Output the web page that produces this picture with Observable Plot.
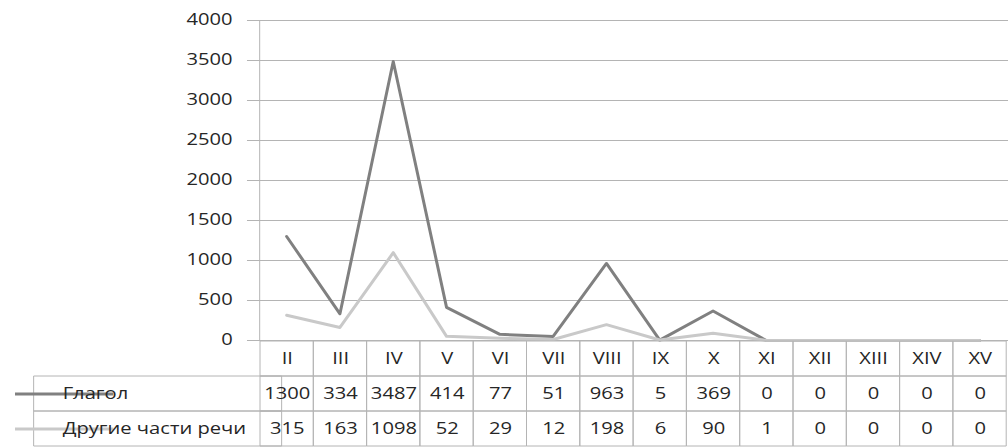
<!DOCTYPE html>
<html><head><meta charset="utf-8">
<script src="https://cdn.jsdelivr.net/npm/d3@7"></script>
<script src="https://cdn.jsdelivr.net/npm/@observablehq/plot@0.6"></script>
<style>
html,body{margin:0;padding:0;background:#fff;}
#chart svg{display:block;max-width:none;}
#chart svg [aria-label="y-axis tick"] path,
#chart svg [aria-label="y-axis"] .tick line{stroke:#b4b4b4;}
</style></head><body><div id="chart"></div>
<script>
const categories = ["II","III","IV","V","VI","VII","VIII","IX","X","XI","XII","XIII","XIV","XV"];
const seriesNames = ["Глагол","Другие части речи"];
const glagol = [1300,334,3487,414,77,51,963,5,369,0,0,0,0,0];
const other = [315,163,1098,52,29,12,198,6,90,1,0,0,0,0];
const yTicks = [0,500,1000,1500,2000,2500,3000,3500,4000];
const seriesColors = ["#808080","#c9c9c9"];

const PAGE_W = 1008, S = 1.3, W = PAGE_W / S;
const X0 = 255 / S, X1 = 1010 / S, LEFT = 7 / S;
const step = (X1 - X0) / categories.length;
const FONT = "'Open Sans', sans-serif";
const FS = 15.5;
const GRID = "#b4b4b4", INK = "#262626";
const CH = 352, CB = 12; // chart svg height and bottom margin (zero line at 340)

const values = [glagol, other];
const data = seriesNames.flatMap((name, s) => categories.map((c, i) => ({cat: c, series: name, value: values[s][i]})));

const chart = Plot.plot({
  width: W, height: CH, marginTop: 20, marginBottom: CB, marginLeft: X0, marginRight: 0,
  style: {fontFamily: FONT, fontSize: FS + "px", color: INK, background: "transparent"},
  x: {type: "point", domain: categories, range: [X0, X1], padding: 0.5, align: 0.5, axis: null},
  y: {domain: [0, 4000], range: [340, 20], ticks: yTicks, tickSize: 8 / S, tickPadding: 23 / S - 8 / S, tickFormat: d => String(d), label: null},
  color: {domain: seriesNames, range: seriesColors},
  marks: [
    Plot.ruleY(yTicks, {stroke: GRID, strokeWidth: 1}),
    Plot.ruleX([categories[0]], {x: d => d, y1: 0, y2: 4000, dx: -step / 2, stroke: GRID}),
    Plot.line(data, {x: "cat", y: "value", z: "series", stroke: "series", strokeWidth: 3})
  ]
});

const rows = ["cat", ...seriesNames];
const cells = rows.flatMap(r => categories.map((c, i) => ({
  cat: c, row: r, text: r === "cat" ? c : String(values[seriesNames.indexOf(r)][i])
})));

const table = Plot.plot({
  width: W, height: 107, marginTop: 0, marginBottom: 0, marginRight: 0, marginLeft: LEFT,
  style: {fontFamily: FONT, fontSize: FS + "px", color: INK, background: "transparent"},
  x: {type: "band", domain: categories, range: [X0, X1], padding: 0, axis: null},
  y: {type: "band", domain: rows, range: [0, 107], padding: 0, axis: null},
  color: {domain: seriesNames, range: seriesColors},
  marks: [
    Plot.cell(cells, {x: "cat", y: "row", stroke: GRID, fill: "none", inset: 0}),
    Plot.barX(seriesNames, {
      y: d => d,
      x1: {value: seriesNames.map(() => LEFT), scale: null},
      x2: {value: seriesNames.map(() => X0), scale: null},
      stroke: GRID, fill: "none", inset: 0
    }),
    Plot.ruleY(seriesNames, {
      y: d => d,
      x1: {value: seriesNames.map(() => 15 / S), scale: null},
      x2: {value: seriesNames.map(() => 60 / S), scale: null},
      stroke: d => d, strokeWidth: 3
    }),
    Plot.text(cells, {x: "cat", y: "row", text: "text", fill: INK, fontSize: FS}),
    Plot.text(seriesNames, {y: d => d, text: d => d, frameAnchor: "left", dx: (62 - 7) / S, textAnchor: "start", fill: INK, fontSize: FS})
  ]
});

function stretch(svg, h) {
  svg.setAttribute("width", PAGE_W);
  svg.setAttribute("height", h);
  svg.setAttribute("viewBox", `0 0 ${W} ${h}`);
  svg.setAttribute("preserveAspectRatio", "none");
  svg.style.width = PAGE_W + "px";
  svg.style.height = h + "px";
  svg.style.maxWidth = "none";
  svg.querySelectorAll("line, path, rect").forEach(el => el.setAttribute("vector-effect", "non-scaling-stroke"));
}
stretch(chart, CH);
stretch(table, 107);
table.style.marginTop = -(CH - 340) + "px";
const root = document.getElementById("chart");
root.appendChild(chart);
root.appendChild(table);
</script>
</body></html>
